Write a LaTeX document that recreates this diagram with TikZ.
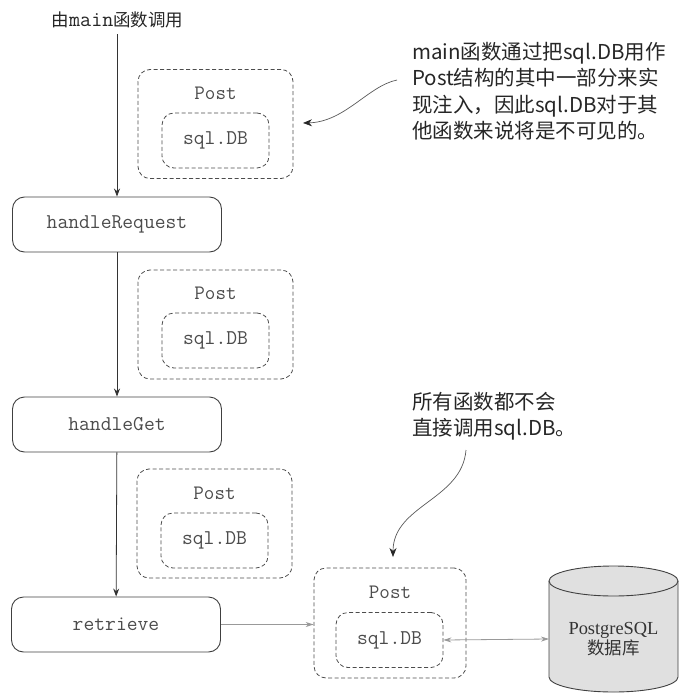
\documentclass[tikz,border=0pt]{standalone}
\usepackage{fontspec}
\setmainfont{Liberation Serif}
\newfontfamily\cjk{Noto Sans CJK SC}
\usetikzlibrary{arrows.meta}
\begin{document}
\begin{tikzpicture}[x=1pt,y=-1pt,
  fnbox/.style={draw=black!75, line width=0.9pt, rounded corners=12pt, minimum width=209pt, minimum height=55pt, font=\fontsize{21}{22}\selectfont\ttfamily, text=black!70},
  postbox/.style={draw=black!70, line width=0.8pt, dash pattern=on 4pt off 2.5pt, rounded corners=12pt, minimum width=155pt, minimum height=109pt},
  dbbox/.style={draw=black!70, line width=0.8pt, dash pattern=on 4pt off 2.5pt, rounded corners=12pt, minimum width=107pt, minimum height=55pt, font=\fontsize{21}{22}\selectfont\ttfamily, text=black!70},
  posttxt/.style={font=\fontsize{20.5}{22}\selectfont\ttfamily, text=black!70, inner sep=0pt},
  arr/.style={draw=black!80, line width=0.8pt, -{Stealth[length=8pt,width=6pt]}},
  grayarr/.style={draw=black!40, line width=0.8pt, -{Stealth[length=8pt,width=5pt]}},
  callarr/.style={draw=black!65, line width=0.7pt, -{Stealth[length=9pt,width=7pt,color=black!85]}},
  note/.style={font=\cjk\fontsize{20.5}{26.5}\selectfont, text=black!85, align=left, inner sep=0pt, anchor=north west},
]
\useasboundingbox (0,0) rectangle (679,693);

% top label
\node[inner sep=0pt, text=black!85] (lbl) at (117.5,20) {{\cjk\fontsize{17.5}{20}\selectfont 由}{\fontsize{21.5}{22}\selectfont\ttfamily main}{\cjk\fontsize{17.5}{20}\selectfont 函数调用}};

% function boxes
\node[fnbox] (hr) at (117,224.5) {handleRequest};
\node[fnbox] (hg) at (117,424.5) {handleGet};
\node[fnbox] (rt) at (116,624.5) {retrieve};

\draw[arr] (lbl.south -| hr.north) ++(0,6) -- (hr.north);
\draw[arr] (hr) -- (hg);
\draw[arr] (hg) -- (rt);

% Post boxes
\node[postbox] (p1) at (215.5,124) {};
\node[posttxt] (p1t) at (215.5,93) {Post};
\node[dbbox] (d1) at (215.5,140.5) {sql.DB};

\node[postbox] (p2) at (215.5,324.5) {};
\node[posttxt] (p2t) at (215.5,293) {Post};
\node[dbbox] (d2) at (215.5,340.5) {sql.DB};

\node[postbox] (p3) at (214.5,523.5) {};
\node[posttxt] (p3t) at (214.5,493) {Post};
\node[dbbox] (d3) at (214.5,540.5) {sql.DB};

\node[postbox, minimum width=152pt, minimum height=110pt] (p4) at (390,623) {};
\node[posttxt] (p4t) at (390,592) {Post};
\node[dbbox] (d4) at (389.5,640) {sql.DB};

% cylinder
\fill[black!12] (549,581) -- (549,677) arc[start angle=180,end angle=360,x radius=64.5pt,y radius=15pt] -- (678,581) arc[start angle=0,end angle=180,x radius=64.5pt,y radius=15pt] -- cycle;
\draw[black!75, line width=0.9pt] (549,581) -- (549,677) arc[start angle=180,end angle=360,x radius=64.5pt,y radius=15pt] -- (678,581);
\draw[black!75, line width=0.9pt] (613.5,581) ellipse [x radius=64.5pt, y radius=15pt];
\node[align=center, inner sep=0pt, text=black!80, font=\fontsize{18.4}{19.5}\selectfont] (db) at (613.5,639) {PostgreSQL\\{\cjk\fontsize{17.5}{19.5}\selectfont 数据库}};
\coordinate (dbw) at (549,639);

% gray connectors
\draw[grayarr] (rt.east) -- (rt.east -| p4.west);
\draw[grayarr, {Stealth[length=8pt,width=5pt]}-{Stealth[length=8pt,width=5pt]}] (d4.east) -- (dbw);

% callouts
\node[note] (n1) at (412,42) {main函数通过把sql.DB用作\\Post结构的其中一部分来实\\现注入，因此sql.DB对于其\\他函数来说将是不可见的。};
\coordinate (c1) at (397,80);
\coordinate (t1) at (303,123);
\draw[callarr] (c1) .. controls (368,86) and (345,122) .. (t1);

\node[note] (n2) at (412,392) {所有函数都不会\\直接调用sql.DB。};
\coordinate (c2) at (466,450);
\coordinate (t2) at (393,557);
\draw[callarr] (c2) .. controls (462,500) and (393,505) .. (t2);
\end{tikzpicture}
\end{document}
